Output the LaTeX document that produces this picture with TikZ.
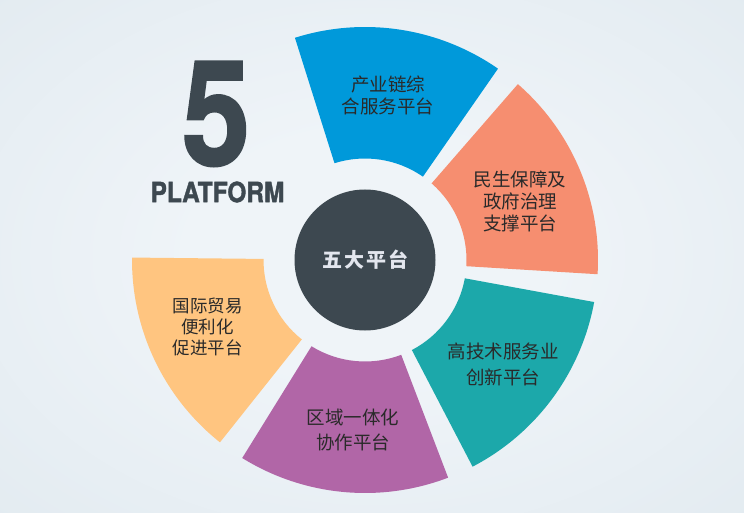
\documentclass[tikz,border=0pt]{standalone}
\usepackage{fontspec}
\newfontfamily\cjk{Noto Sans CJK SC}
\newfontfamily\cjkc[LetterSpace=10]{Noto Sans CJK SC}
\newfontfamily\heros[FakeBold=1.5]{TeX Gyre Heros Bold}
\definecolor{bgin}{HTML}{EFF4F8}
\definecolor{bgout}{HTML}{D1DEE6}
\definecolor{segblue}{HTML}{0099DA}
\definecolor{segsalmon}{HTML}{F68E70}
\definecolor{segteal}{HTML}{1CA8AA}
\definecolor{segpurple}{HTML}{B166A7}
\definecolor{segyellow}{HTML}{FFC580}
\definecolor{darkcore}{HTML}{3D4850}
\definecolor{segtext}{HTML}{2A2A2A}
\definecolor{coretext}{HTML}{E3E6EE}
\pgfdeclareradialshading{bgshade}{\pgfpoint{0bp}{0bp}}{color(0bp)=(bgin); color(12bp)=(bgin); color(72bp)=(bgout)}
\newcommand\ringseg[3]{\fill[#1] ([shift={(C)}]#2:233) arc[start angle=#2,end angle=#3,radius=233] -- ([shift={(C)}]#3:101.5) arc[start angle=#3,end angle=#2,radius=101.5] -- cycle;}
\tikzset{
  seglabel/.style={align=center, text=segtext, inner sep=0pt},
}
\begin{document}
\begin{tikzpicture}[x=1pt,y=1pt]
\useasboundingbox (0,0) rectangle (744,512);
\shade[shading=bgshade] (0,0) rectangle (744,512);
\coordinate (C) at (365,252);
\ringseg{segblue}{55.2}{107.5}
\ringseg{segsalmon}{-3.5}{49}
\ringseg{segteal}{-62.5}{-10.4}
\ringseg{segpurple}{-121.8}{-69.1}
\ringseg{segyellow}{179.4}{231.5}
\node[circle, fill=darkcore, minimum size=141pt, inner sep=0pt, text=coretext,
      font=\cjkc\bfseries\fontsize{20}{24}\selectfont] (core) at (C) {\raisebox{-3pt}{五大平台}};
\node[seglabel, font=\cjk\fontsize{18.5}{22}\selectfont] (lblue) at (388,417) {产业链综\\合服务平台};
\node[seglabel, font=\cjk\fontsize{18.5}{22}\selectfont] (lsalmon) at (520,311) {民生保障及\\政府治理\\支撑平台};
\node[seglabel, font=\cjk\fontsize{18.5}{26}\selectfont] (lteal) at (503,148) {高技术服务业\\创新平台};
\node[seglabel, font=\cjk\fontsize{18.5}{25}\selectfont] (lpurple) at (353,82.5) {区域一体化\\协作平台};
\node[seglabel, font=\cjk\fontsize{17.5}{21}\selectfont] (lyellow) at (207.5,185) {国际贸易\\便利化\\促进平台};
\node[inner sep=0pt, text=darkcore, font=\heros\fontsize{146}{146}\selectfont, xscale=0.84] (five) at (216,398) {5};
\node[inner sep=0pt, text=darkcore, font=\heros\fontsize{27.8}{28}\selectfont, xscale=0.88] (plat) at (217.5,320) {PLATFORM};
\end{tikzpicture}
\end{document}
